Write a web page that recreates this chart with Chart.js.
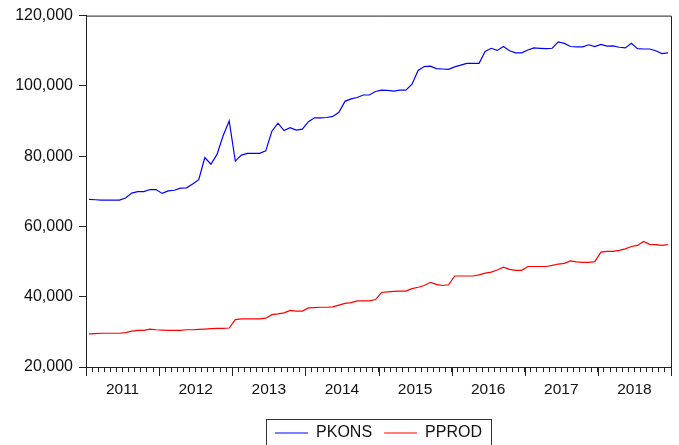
<!DOCTYPE html>
<html>
<head>
<meta charset="utf-8">
<script src="https://cdn.jsdelivr.net/npm/chart.js@4/dist/chart.umd.min.js"></script>
<style>
  html, body { margin: 0; padding: 0; background: #fff; }
  #wrap { width: 679px; height: 445px; }
</style>
</head>
<body>
<div id="wrap"><canvas id="priceChart" width="679" height="445"></canvas></div>
<script>
// monthly series, Jan 2011 - Dec 2018
var years = ['2011', '2012', '2013', '2014', '2015', '2016', '2017', '2018'];
var yTicks = [20000, 40000, 60000, 80000, 100000, 120000];

var pkons = [
    67700, 67600, 67500, 67500, 67500, 67500, 68100, 69500, 69900, 69900, 70500, 70500,
    69400, 70100, 70300, 70900, 71000, 72100, 73300, 79600, 77700, 80500, 85800, 90000,
    78600, 80300, 80800, 80800, 80800, 81500, 87100, 89400, 87300, 88100, 87400, 87700,
    89800, 90900, 90900, 91000, 91300, 92500, 95600, 96300, 96700, 97400, 97400, 98400,
    98800, 98700, 98500, 98800, 98800, 100500, 104400, 105500, 105600, 104900, 104800, 104700,
    105400, 105900, 106400, 106400, 106400, 109800, 110700, 110100, 111200, 110000, 109400, 109400,
    110200, 110800, 110700, 110600, 110700, 112500, 112100, 111200, 111100, 111100, 111700, 111200,
    111800, 111300, 111400, 111000, 110800, 112100, 110600, 110500, 110500, 110000, 109200, 109400
];

var pprod = [
    29400, 29500, 29600, 29600, 29600, 29600, 29800, 30200, 30400, 30400, 30800, 30600,
    30500, 30400, 30400, 30400, 30600, 30600, 30700, 30800, 30900, 31000, 31000, 31100,
    33500, 33700, 33700, 33700, 33700, 33900, 34900, 35100, 35400, 36100, 35900, 35900,
    36800, 36900, 37000, 37000, 37100, 37600, 38100, 38300, 38800, 38800, 38800, 39200,
    41200, 41400, 41500, 41600, 41600, 42300, 42700, 43200, 44100, 43500, 43200, 43400,
    45900, 45900, 45900, 45900, 46200, 46700, 47000, 47600, 48400, 47800, 47500, 47500,
    48600, 48600, 48600, 48600, 48900, 49300, 49500, 50200, 49900, 49800, 49800, 50000,
    52700, 52900, 52900, 53200, 53600, 54300, 54600, 55700, 54900, 54800, 54600, 54800
];

var nMonths = years.length * 12;

// each observation sits in the middle of its month slot
function toPoints(arr) {
    return arr.map(function (v, i) { return { x: i + 0.5, y: v }; });
}

var fontFamily = "'Liberation Sans', Arial, sans-serif";

// box around the plot area + long ticks at year boundaries + legend frame
var framePlugin = {
    id: 'frame',
    afterDraw: function (chart) {
        var ctx = chart.ctx;
        var a = chart.chartArea;
        var xs = chart.scales.x;
        ctx.save();
        ctx.strokeStyle = '#222';
        ctx.lineWidth = 1;
        ctx.beginPath();
        ctx.moveTo(a.left, a.top + 0.5);
        ctx.lineTo(a.right + 0.5, a.top + 0.5);
        ctx.lineTo(a.right + 0.5, a.bottom);
        ctx.stroke();

        ctx.beginPath();
        for (var k = 0; k <= years.length; k++) {
            var px = Math.round(xs.getPixelForValue(k * 12)) + 0.5;
            ctx.moveTo(px, a.bottom);
            ctx.lineTo(px, a.bottom + 9);
        }
        ctx.stroke();

        var hb = chart.legend.legendHitBoxes;
        if (hb && hb.length) {
            var first = hb[0], last = hb[hb.length - 1];
            var l = Math.round(first.left - 9) + 0.5;
            var r = Math.round(last.left + last.width + 9) + 0.5;
            var t = Math.round(first.top - 6) + 0.5;
            var b = Math.round(first.top + first.height + 6) + 0.5;
            ctx.strokeStyle = '#333';
            ctx.strokeRect(l, t, r - l, b - t);
        }
        ctx.restore();
    }
};

var ctx1 = document.getElementById('priceChart').getContext('2d');
var priceChart = new Chart(ctx1, {
    type: 'line',
    data: {
        datasets: [{
            label: 'PKONS',
            data: toPoints(pkons),
            borderColor: '#0000ff',
            backgroundColor: '#0000ff',
            borderWidth: 1.2,
            pointRadius: 0,
            tension: 0
        }, {
            label: 'PPROD',
            data: toPoints(pprod),
            borderColor: '#ff0000',
            backgroundColor: '#ff0000',
            borderWidth: 1.2,
            pointRadius: 0,
            tension: 0
        }]
    },
    options: {
        responsive: false,
        animation: false,
        layout: { padding: { left: 0, right: 5, top: 14, bottom: -6 } },
        plugins: {
            tooltip: { enabled: false },
            legend: {
                position: 'bottom',
                fullSize: false,
                labels: {
                    usePointStyle: true,
                    pointStyle: 'line',
                    pointStyleWidth: 33,
                    padding: 12,
                    color: '#111',
                    font: { family: fontFamily, size: 16 }
                }
            }
        },
        scales: {
            x: {
                type: 'linear',
                min: 0,
                max: nMonths,
                afterFit: function (scale) { scale.height = 46; },
                border: { color: '#222', width: 1 },
                grid: { drawOnChartArea: false, tickLength: 5, tickColor: '#222' },
                ticks: {
                    stepSize: 1,
                    autoSkip: false,
                    maxRotation: 0,
                    padding: 8,
                    color: '#111',
                    font: { family: fontFamily, size: 15.5 },
                    callback: function (value) {
                        return value % 12 === 6 ? years[(value - 6) / 12] : '';
                    }
                }
            },
            y: {
                min: yTicks[0],
                max: yTicks[yTicks.length - 1],
                afterFit: function (scale) { scale.width = 86; },
                border: { color: '#222', width: 1 },
                grid: { drawOnChartArea: false, tickLength: 7, tickColor: '#222' },
                ticks: {
                    stepSize: yTicks[1] - yTicks[0],
                    padding: 6,
                    color: '#111',
                    font: { family: fontFamily, size: 16 },
                    callback: function (value) { return value.toLocaleString('en-US'); }
                }
            }
        }
    },
    plugins: [framePlugin]
});
</script>
</body>
</html>
